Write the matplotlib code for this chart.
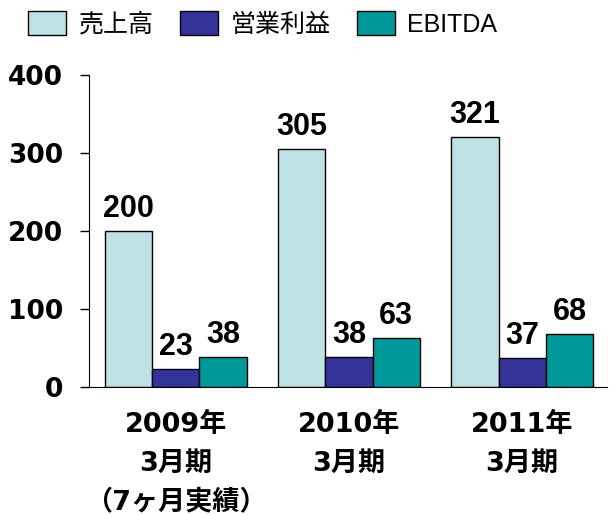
import matplotlib.pyplot as plt
import numpy as np

plt.rcParams['font.family'] = ['Liberation Sans', 'Noto Sans CJK JP', 'DejaVu Sans']

years = ['2009年\n3月期\n（7ヶ月実績）', '2010年\n3月期', '2011年\n3月期']
series = ['売上高', '営業利益', 'EBITDA']
sales = [200, 305, 321]
op_profit = [23, 38, 37]
ebitda = [38, 63, 68]
colors = ['#BDE1E4', '#333399', '#009999']

wide = ['DejaVu Sans', 'Noto Sans CJK JP']

fig = plt.figure(figsize=(6.11, 5.15), dpi=100)
ax = fig.add_axes([0.1457, 0.2485, 0.848, 0.606])

x = np.arange(len(years))
w = 0.273
for i, (vals, name, c) in enumerate(zip([sales, op_profit, ebitda], series, colors)):
    bars = ax.bar(x + (i - 1) * w, vals, w, color=c, edgecolor='black', linewidth=1, label=name)
    for b, v in zip(bars, vals):
        ax.text(b.get_x() + b.get_width() / 2, v + 9, str(v), ha='center', va='bottom',
                fontsize=22, fontweight='bold')

ax.set_ylim(0, 400)
ax.set_xlim(-0.5, 2.49)
ax.set_yticks([0, 100, 200, 300, 400])
ax.set_yticklabels(['0', '100', '200', '300', '400'], family=wide, fontsize=19, fontweight='bold')
ax.tick_params(axis='y', length=6.5, width=1, direction='out', pad=12)
ax.set_xticks(x)
ax.set_xticklabels(years, family=wide, fontsize=19.5, fontweight='bold', linespacing=1.62)
ax.tick_params(axis='x', length=0, pad=18)
ax.spines['top'].set_visible(False)
ax.spines['right'].set_visible(False)

fig.legend(loc='upper left', bbox_to_anchor=(0.022, 1.008), ncol=3, frameon=False,
           fontsize=18, handlelength=1.52, handleheight=1.12, handletextpad=0.5,
           columnspacing=1.05, borderaxespad=0.3, borderpad=0.3)

fig.savefig('out.png', dpi=100)
